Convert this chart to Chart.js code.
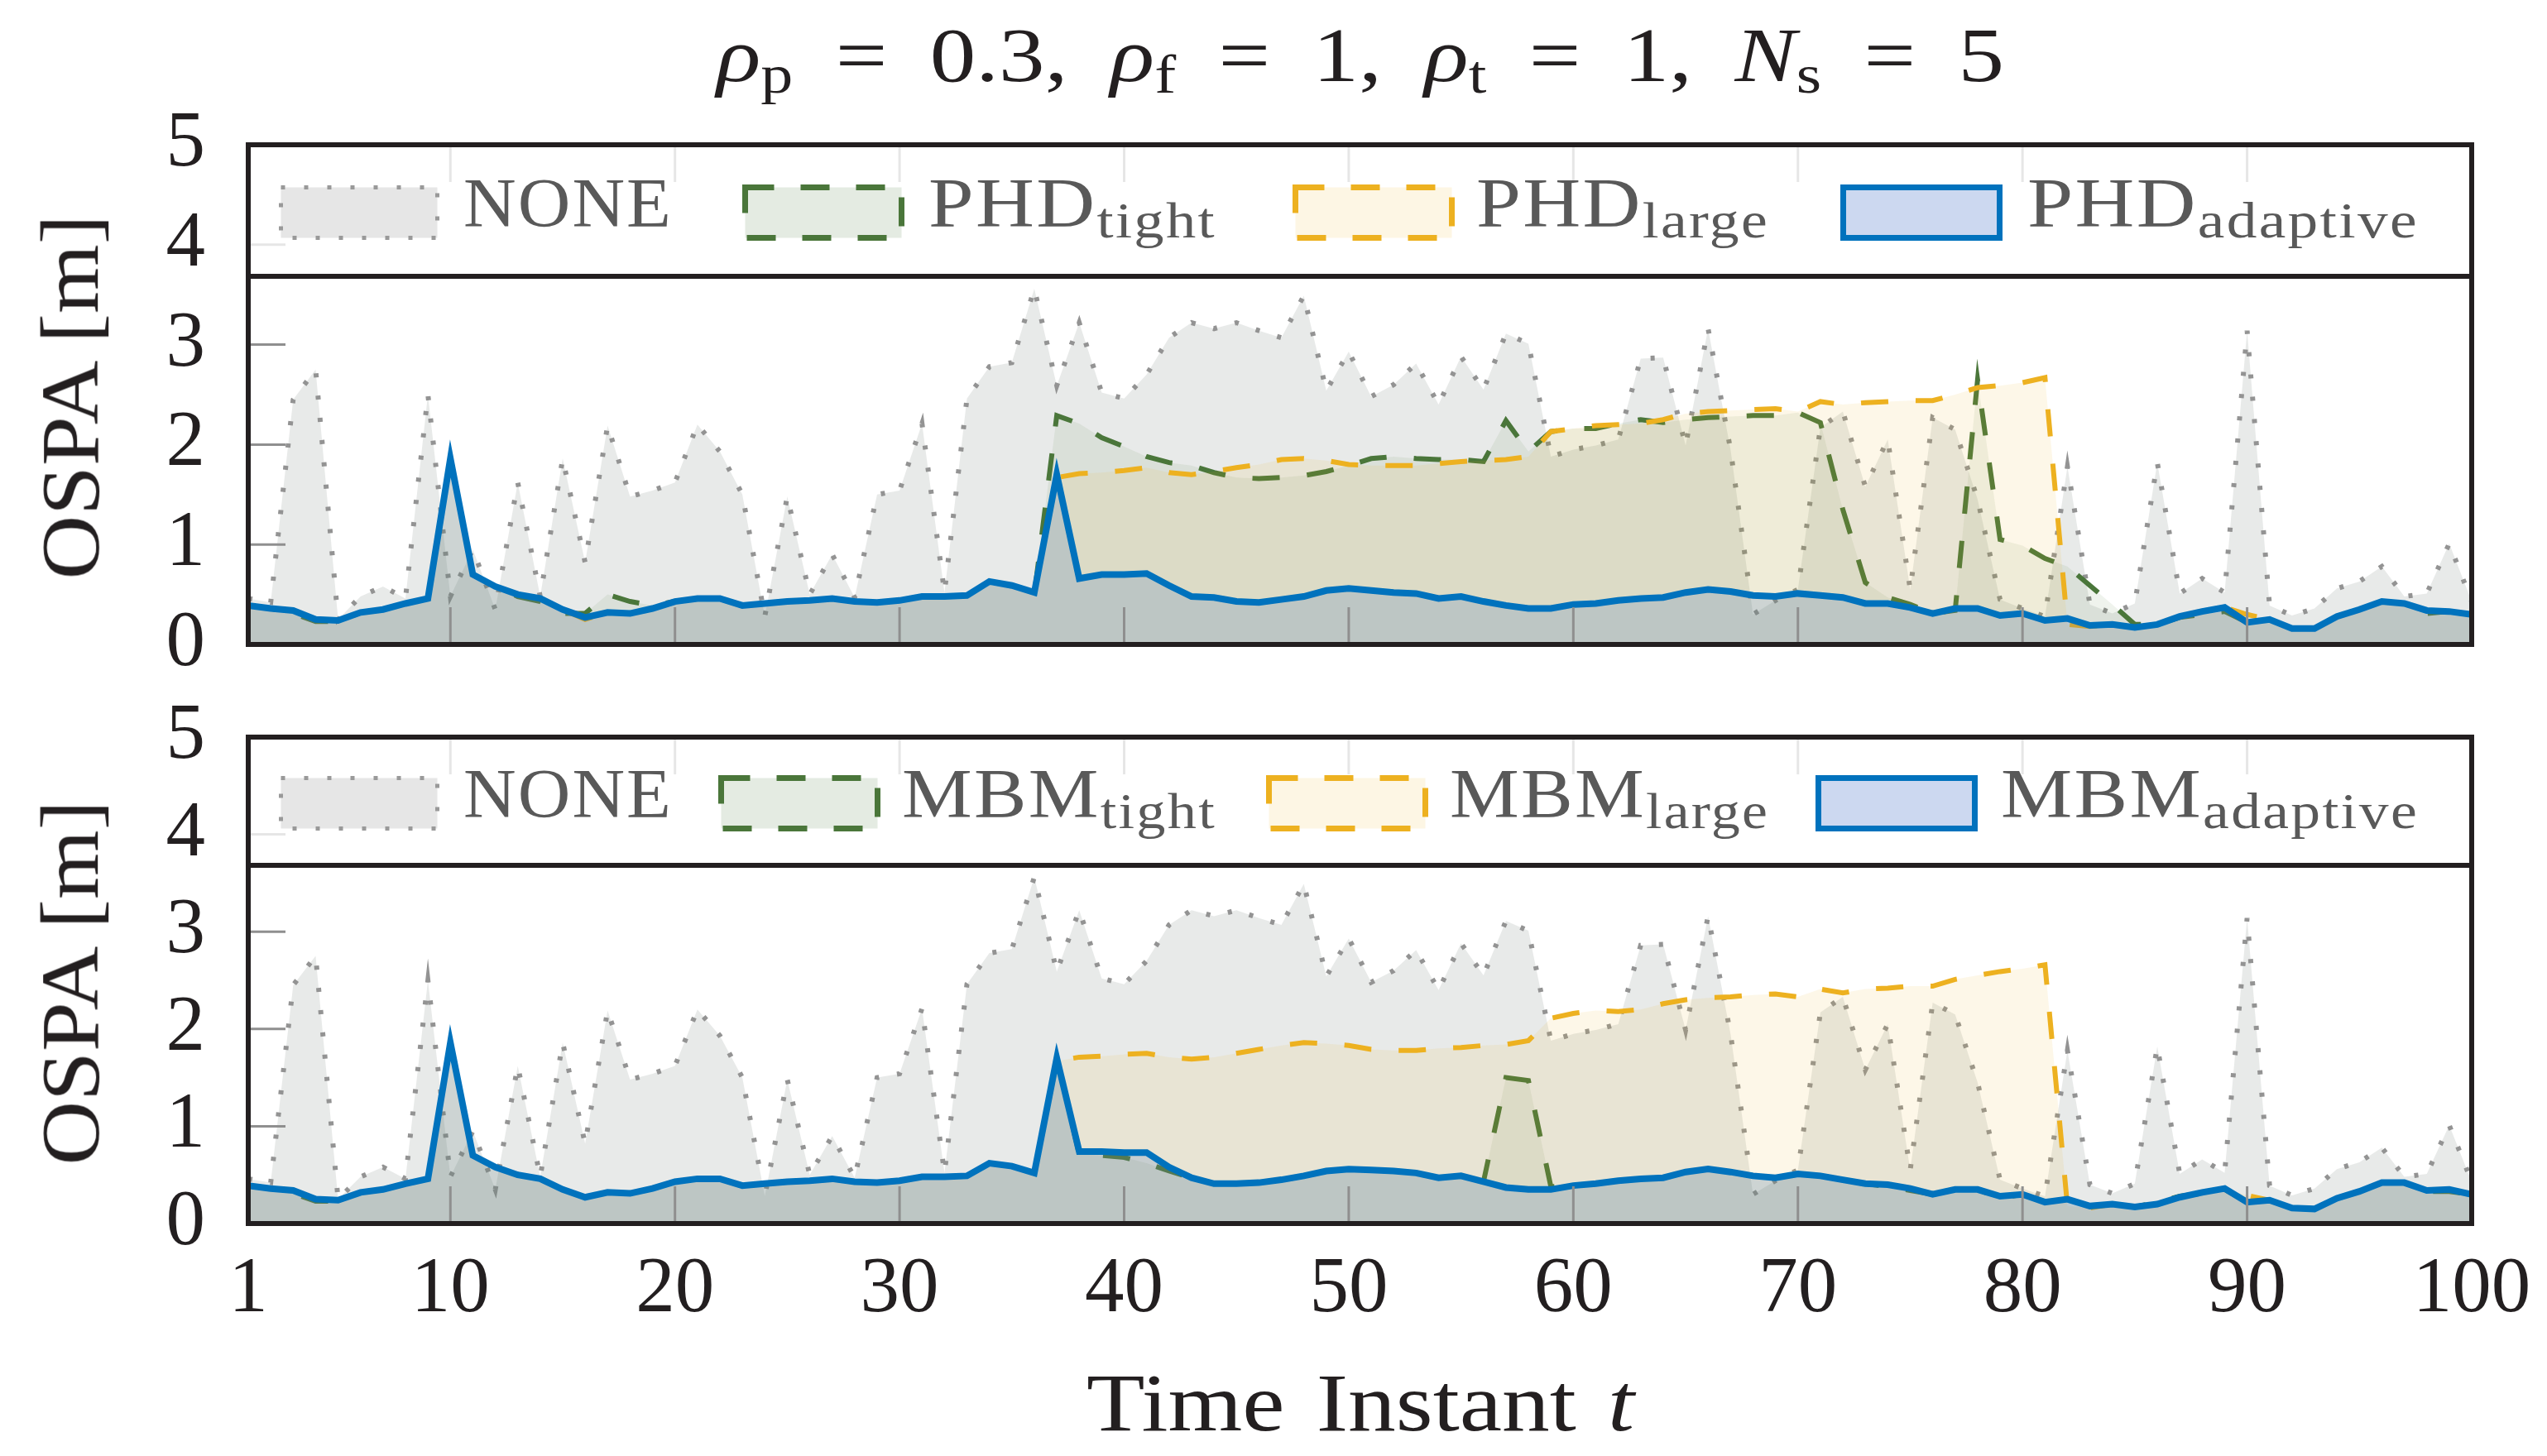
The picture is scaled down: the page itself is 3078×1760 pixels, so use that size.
<!DOCTYPE html>
<html><head><meta charset="utf-8">
<script src="https://cdn.jsdelivr.net/npm/chart.js@4.4.1/dist/chart.umd.min.js"></script>
<style>
html,body{margin:0;padding:0;background:#fff;}
#page{position:relative;width:3078px;height:1760px;overflow:hidden;background:#fff;font-family:'Liberation Serif',serif;color:#231f20;}
canvas{position:absolute;left:0;}
.txt{position:absolute;white-space:nowrap;line-height:1;}
.txt sub{line-height:0;}
.legbox{position:absolute;box-sizing:border-box;border:6px solid #231f20;background:rgba(255,255,255,0.78);}
.sw{position:absolute;}
.lt{position:absolute;white-space:nowrap;line-height:1;font-size:84px;color:#595959;letter-spacing:2px;}
.lt sub{font-size:62px;vertical-align:-13px;line-height:0;}
.yt{position:absolute;white-space:nowrap;line-height:1;font-size:100px;color:#231f20;}
</style></head>
<body><div id="page">
<div id="title" class="txt" style="font-size:94px;word-spacing:20px;"><i>ρ</i><sub style="font-size:66px;vertical-align:-14px;">p</sub> = 0.3, <i>ρ</i><sub style="font-size:66px;vertical-align:-14px;">f</sub> = 1, <i>ρ</i><sub style="font-size:66px;vertical-align:-14px;">t</sub> = 1, <i>N</i><sub style="font-size:66px;vertical-align:-14px;">s</sub> = 5</div>
<canvas id="c1" width="3078" height="880" style="top:0px;width:3078px;height:880px"></canvas>
<canvas id="c2" width="3078" height="970" style="top:790px;width:3078px;height:970px"></canvas>
<div id="xtitle" class="txt" style="font-size:100px;word-spacing:8px;">Time Instant <i>t</i></div>
</div>
<script>
// ---------------- data ----------------
const T = [1,2,3,4,5,6,7,8,9,10,11,12,13,14,15,16,17,18,19,20,21,22,23,24,25,26,27,28,29,30,31,32,33,34,35,36,37,38,39,40,41,42,43,44,45,46,47,48,49,50,51,52,53,54,55,56,57,58,59,60,61,62,63,64,65,66,67,68,69,70,71,72,73,74,75,76,77,78,79,80,81,82,83,84,85,86,87,88,89,90,91,92,93,94,95,96,97,98,99,100];
const X_TICKS = [1,10,20,30,40,50,60,70,80,90,100];
const Y_TICKS = [0,1,2,3,4,5];

const NONE = [0.46,0.42,2.45,2.75,0.25,0.48,0.58,0.46,2.50,0.48,
0.95,0.35,1.62,0.48,1.86,0.82,2.19,1.48,1.54,1.62,
2.20,1.93,1.50,0.28,1.48,0.50,0.90,0.47,1.50,1.54,
2.21,0.52,2.46,2.78,2.82,3.56,2.59,3.22,2.52,2.46,
2.70,3.07,3.22,3.16,3.22,3.14,3.07,3.49,2.54,2.93,
2.48,2.60,2.81,2.40,2.88,2.55,3.11,3.01,1.88,1.95,
1.99,2.05,2.86,2.87,1.99,3.16,1.95,0.30,0.44,0.55,
2.17,2.33,1.58,2.05,0.55,2.27,2.15,1.45,0.45,0.36,
0.28,1.78,0.40,0.31,0.41,1.82,0.51,0.66,0.52,3.14,
0.39,0.29,0.36,0.56,0.63,0.78,0.48,0.51,1.01,0.43];

const PHD_TIGHT = [0.39,0.36,0.31,0.23,0.23,0.32,0.35,0.41,0.46,1.86,
0.70,0.58,0.48,0.43,0.31,0.31,0.50,0.43,0.39,0.43,
0.46,0.46,0.39,0.41,0.43,0.44,0.46,0.43,0.42,0.44,
0.48,0.48,0.49,0.63,0.59,0.50,2.29,2.21,2.07,1.98,
1.88,1.82,1.79,1.72,1.67,1.66,1.67,1.69,1.73,1.79,
1.86,1.88,1.86,1.85,1.85,1.83,2.24,1.93,2.13,2.16,
2.16,2.21,2.25,2.22,2.25,2.27,2.28,2.29,2.29,2.32,
2.22,1.35,0.62,0.47,0.40,0.31,0.34,2.65,1.05,0.99,
0.86,0.78,0.59,0.40,0.20,0.20,0.27,0.30,0.33,0.22,
0.25,0.16,0.16,0.28,0.35,0.43,0.41,0.31,0.33,0.30];

const PHD_LARGE = [0.39,0.36,0.34,0.25,0.24,0.32,0.35,0.41,0.46,1.86,
0.70,0.58,0.50,0.46,0.35,0.25,0.32,0.31,0.36,0.43,
0.46,0.46,0.39,0.41,0.43,0.44,0.46,0.43,0.42,0.44,
0.48,0.48,0.49,0.63,0.59,0.52,1.67,1.71,1.72,1.74,
1.77,1.72,1.70,1.73,1.77,1.80,1.85,1.86,1.84,1.80,
1.79,1.79,1.79,1.81,1.83,1.84,1.85,1.88,2.13,2.16,
2.19,2.20,2.21,2.25,2.31,2.33,2.34,2.35,2.36,2.33,
2.43,2.40,2.42,2.43,2.44,2.44,2.50,2.57,2.59,2.62,
2.67,0.20,0.18,0.20,0.17,0.20,0.28,0.33,0.37,0.30,
0.25,0.16,0.16,0.28,0.35,0.43,0.41,0.34,0.33,0.30];

const PHD_ADAPTIVE = [0.39,0.36,0.34,0.25,0.24,0.32,0.35,0.41,0.46,1.86,
0.70,0.58,0.50,0.46,0.35,0.27,0.32,0.31,0.36,0.43,
0.46,0.46,0.39,0.41,0.43,0.44,0.46,0.43,0.42,0.44,
0.48,0.48,0.49,0.63,0.59,0.52,1.70,0.66,0.70,0.70,
0.71,0.59,0.48,0.47,0.43,0.42,0.45,0.48,0.54,0.56,
0.54,0.52,0.51,0.46,0.48,0.43,0.39,0.36,0.36,0.40,
0.41,0.44,0.46,0.47,0.52,0.55,0.53,0.49,0.48,0.51,
0.49,0.47,0.41,0.41,0.37,0.31,0.36,0.36,0.29,0.31,
0.24,0.26,0.19,0.20,0.17,0.20,0.28,0.33,0.37,0.22,
0.25,0.16,0.16,0.28,0.35,0.43,0.41,0.34,0.33,0.30];

const MBM_TIGHT = [0.39,0.36,0.31,0.23,0.23,0.32,0.35,0.41,0.46,1.86,
0.70,0.58,0.50,0.46,0.35,0.27,0.32,0.31,0.36,0.43,
0.46,0.46,0.39,0.41,0.43,0.44,0.46,0.43,0.42,0.44,
0.48,0.48,0.49,0.62,0.59,0.52,1.70,0.71,0.70,0.68,
0.62,0.54,0.47,0.41,0.41,0.42,0.45,0.49,0.54,0.56,
0.55,0.54,0.52,0.47,0.49,0.43,1.50,1.47,0.38,0.39,
0.41,0.44,0.46,0.47,0.53,0.56,0.53,0.49,0.47,0.51,
0.49,0.45,0.41,0.38,0.34,0.30,0.35,0.35,0.26,0.30,
0.22,0.25,0.18,0.20,0.17,0.22,0.28,0.31,0.35,0.22,
0.24,0.16,0.15,0.26,0.33,0.42,0.42,0.33,0.33,0.30];

const MBM_LARGE = [0.39,0.36,0.34,0.25,0.24,0.32,0.35,0.41,0.46,1.86,
0.70,0.58,0.50,0.46,0.35,0.27,0.32,0.31,0.36,0.43,
0.46,0.46,0.39,0.41,0.43,0.44,0.46,0.43,0.42,0.44,
0.48,0.48,0.49,0.62,0.59,0.52,1.67,1.71,1.72,1.74,
1.75,1.71,1.69,1.71,1.75,1.79,1.83,1.86,1.85,1.83,
1.79,1.78,1.78,1.80,1.81,1.83,1.84,1.88,2.11,2.16,
2.19,2.18,2.20,2.26,2.30,2.32,2.33,2.35,2.36,2.33,
2.41,2.37,2.41,2.42,2.44,2.44,2.51,2.55,2.59,2.62,
2.66,0.18,0.16,0.20,0.17,0.20,0.27,0.32,0.36,0.29,
0.24,0.16,0.15,0.26,0.33,0.42,0.42,0.34,0.35,0.30];

const MBM_ADAPTIVE = [0.39,0.36,0.34,0.25,0.24,0.32,0.35,0.41,0.46,1.86,
0.70,0.58,0.50,0.46,0.35,0.27,0.32,0.31,0.36,0.43,
0.46,0.46,0.39,0.41,0.43,0.44,0.46,0.43,0.42,0.44,
0.48,0.48,0.49,0.62,0.59,0.52,1.70,0.74,0.74,0.73,
0.73,0.58,0.47,0.41,0.41,0.42,0.45,0.49,0.54,0.56,
0.55,0.54,0.52,0.47,0.49,0.43,0.37,0.35,0.35,0.39,
0.41,0.44,0.46,0.47,0.53,0.56,0.53,0.49,0.47,0.51,
0.49,0.45,0.41,0.40,0.36,0.30,0.35,0.35,0.28,0.30,
0.22,0.25,0.18,0.20,0.17,0.20,0.27,0.32,0.36,0.22,
0.24,0.16,0.15,0.26,0.33,0.42,0.42,0.34,0.35,0.30];

const LEG_TOP_MAIN = ['NONE','PHD','PHD','PHD'];
const LEG_BOT_MAIN = ['NONE','MBM','MBM','MBM'];
const LEG_SUB = ['','tight','large','adaptive'];
const Y_TITLE = 'OSPA [m]';

// ---------------- styles / layout ----------------
const FONT = "'Liberation Serif', serif";
const INK = '#231f20';
const STY = [
  {line:'#939393', dash:[5,22], w:6, fill:'rgba(130,140,135,0.18)', sw:'#e6e6e6', swStroke:'#999999', swDash:'5 23', swW:5},
  {line:'#4a763a', dash:[33,33], w:6, fill:'rgba(77,122,58,0.09)', sw:'#e4ebe2', swStroke:'#4a763a', swDash:'35 32', swW:7},
  {line:'#edb120', dash:[33,33], w:6, fill:'rgba(237,177,32,0.10)', sw:'#fdf6e4', swStroke:'#edb120', swDash:'35 32', swW:7},
  {line:'#0072bd', dash:[], w:8, fill:'rgba(65,113,188,0.20)', sw:'#ccd8f0', swStroke:'#0072bd', swDash:'', swW:7}
];
const ORDER = [4,3,2,1];
const LEG_BOTTOM_VALUE = 3.68;

function ds(label, arr, k) {
  const s = STY[k];
  return {label, data: T.map((t,i)=>({x:t, y:arr[i]})), borderColor:s.line, borderDash:s.dash,
    borderWidth:s.w, backgroundColor:s.fill, fill:'origin', order:ORDER[k], pointRadius:0, tension:0};
}

const framePlugin = {
  id:'frame',
  afterDatasetsDraw(chart) {
    const {ctx, chartArea:a, scales:{x,y}} = chart;
    ctx.save();
    ctx.strokeStyle = '#8f8f8f'; ctx.lineWidth = 3;
    ctx.beginPath();
    X_TICKS.forEach(v => {
      if (v <= x.min || v >= x.max) return;
      const px = x.getPixelForValue(v);
      ctx.moveTo(px, a.bottom); ctx.lineTo(px, a.bottom - 45);
      ctx.moveTo(px, a.top); ctx.lineTo(px, a.top + 45);
    });
    Y_TICKS.forEach(v => {
      if (v <= y.min || v >= y.max) return;
      const py = y.getPixelForValue(v);
      ctx.moveTo(a.left, py); ctx.lineTo(a.left + 45, py);
    });
    ctx.stroke();
    ctx.strokeStyle = INK; ctx.lineWidth = 6;
    ctx.strokeRect(a.left, a.top, a.right - a.left, a.bottom - a.top);
    ctx.restore();
  }
};

function makeChart(id, sets, showX, padTop, xHeight) {
  return new Chart(document.getElementById(id), {
    type:'line',
    data:{datasets:sets},
    options:{
      responsive:false, animation:false, devicePixelRatio:1,
      layout:{padding:{left:0, right:91, top:padTop, bottom:0}},
      plugins:{legend:{display:false}, tooltip:{enabled:false}, title:{display:false}},
      scales:{
        x:{type:'linear', min:1, max:100,
           afterBuildTicks:s=>{ s.ticks = X_TICKS.map(v=>({value:v})); },
           afterFit:s=>{ s.height = xHeight; },
           grid:{display:false}, border:{display:false},
           ticks:{display:showX, autoSkip:false, maxRotation:0, minRotation:0, padding:16,
                  font:{family:FONT, size:95}, color:INK}},
        y:{min:0, max:5,
           afterBuildTicks:s=>{ s.ticks = Y_TICKS.map(v=>({value:v})); },
           afterFit:s=>{ s.width = 300; },
           grid:{display:false}, border:{display:false},
           ticks:{padding:44, font:{family:FONT, size:95}, color:INK}}
      }
    },
    plugins:[framePlugin]
  });
}

const c1 = makeChart('c1', [
  ds('NONE', NONE, 0), ds('PHD tight', PHD_TIGHT, 1), ds('PHD large', PHD_LARGE, 2), ds('PHD adaptive', PHD_ADAPTIVE, 3)
], false, 175, 92.5);
const c2 = makeChart('c2', [
  ds('NONE', NONE, 0), ds('MBM tight', MBM_TIGHT, 1), ds('MBM large', MBM_LARGE, 2), ds('MBM adaptive', MBM_ADAPTIVE, 3)
], true, 76.5, 281);

const page = document.getElementById('page');
// stretch text horizontally to the reference width (Computer Modern is wider than the installed serif)
function fitScale(el, target) {
  el.style.transform = 'none';
  const w = el.getBoundingClientRect().width;
  el.style.transformOrigin = '0 0';
  el.style.transform = 'scaleX(' + (target / w) + ')';
}

function buildLegend(chart, canvasTop, mains, swX, txtX, txtW) {
  const a = chart.chartArea;
  const yb = chart.scales.y.getPixelForValue(LEG_BOTTOM_VALUE);
  const box = document.createElement('div');
  box.className = 'legbox';
  box.style.left = (a.left - 3) + 'px';
  box.style.top = (canvasTop + a.top - 3) + 'px';
  box.style.width = (a.right - a.left + 6) + 'px';
  box.style.height = (yb - a.top + 6) + 'px';
  page.appendChild(box);
  const cy = canvasTop + (a.top + yb) / 2;
  for (let k = 0; k < 4; k++) {
    const s = STY[k];
    const svgNS = 'http://www.w3.org/2000/svg';
    const svg = document.createElementNS(svgNS, 'svg');
    svg.setAttribute('width', 196); svg.setAttribute('height', 68);
    svg.setAttribute('class', 'sw');
    svg.style.left = (swX[k] - 2) + 'px';
    svg.style.top = (cy + 2 - 34) + 'px';
    const r = document.createElementNS(svgNS, 'rect');
    r.setAttribute('x', 3.5); r.setAttribute('y', 3.5); r.setAttribute('width', 189); r.setAttribute('height', 61);
    r.setAttribute('fill', s.sw); r.setAttribute('stroke', s.swStroke); r.setAttribute('stroke-width', s.swW);
    if (s.swDash) r.setAttribute('stroke-dasharray', s.swDash);
    svg.appendChild(r);
    page.appendChild(svg);
    const t = document.createElement('div');
    t.className = 'lt';
    t.innerHTML = mains[k] + (LEG_SUB[k] ? '<sub>' + LEG_SUB[k] + '</sub>' : '');
    t.style.left = txtX[k] + 'px';
    t.style.top = (cy + 20 - 0.8375 * 84) + 'px';
    page.appendChild(t);
    fitScale(t, txtW[k]);
  }
  const yt = document.createElement('div');
  yt.className = 'yt';
  yt.textContent = Y_TITLE;
  page.appendChild(yt);
  const w = yt.getBoundingClientRect().width;
  const sx = 441 / w;
  yt.style.left = (85 - w / 2) + 'px';
  yt.style.top = (canvasTop + (a.top + a.bottom) / 2 + 3 - 50) + 'px';
  yt.style.transformOrigin = '50% 50%';
  yt.style.transform = 'rotate(-90deg) scaleX(' + sx + ')';
}

buildLegend(c1, 0, LEG_TOP_MAIN, [338, 899, 1564, 2226], [560, 1122, 1784, 2450], [253, 348, 354, 473]);
buildLegend(c2, 790, LEG_BOT_MAIN, [338, 870, 1532, 2196], [560, 1090, 1752, 2418], [253, 380, 386, 505]);

// title & x-axis title centred on the plot area
const a1 = c1.chartArea;
const cx = (a1.left + a1.right) / 2;
const title = document.getElementById('title');
fitScale(title, 1556);
title.style.left = (cx - 1556 / 2) + 'px';
title.style.top = (98 - 0.8375 * 94) + 'px';
const xt = document.getElementById('xtitle');
fitScale(xt, 662);
xt.style.left = (cx - 662 / 2) + 'px';
xt.style.top = (1730 - 0.8375 * 100) + 'px';
</script>
</body></html>
